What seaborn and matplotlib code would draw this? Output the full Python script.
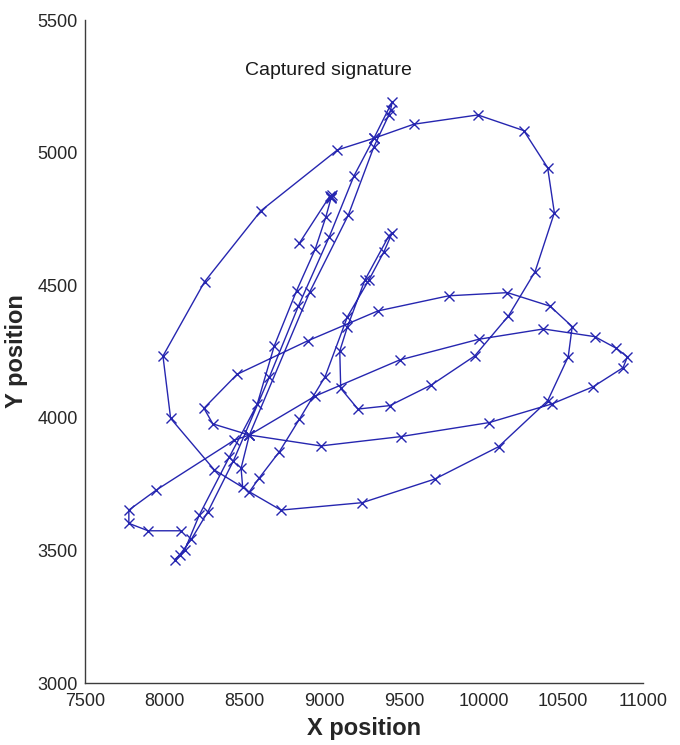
import numpy as np
import pandas as pd
import matplotlib
matplotlib.use("Agg")
import matplotlib.pyplot as plt
import seaborn as sns

# ---- captured pen trace, segment by segment, in writing order ----
stub_star_x = [8844, 9036, 9042, 9048, 9040, 9045]
stub_star_y = [4658, 4836, 4834, 4840, 4828, 4832]

down_a_x = [9010, 8944, 8827, 8687, 8580, 8406, 8216, 8125, 8062]
down_a_y = [4756, 4636, 4479, 4271, 4051, 3853, 3632, 3501, 3464]

up_b_x = [8094, 8167, 8271, 8431, 8656, 8839, 9031, 9187, 9312, 9427]
up_b_y = [3483, 3542, 3646, 3838, 4153, 4422, 4681, 4912, 5054, 5192]

down_c_x = [9417, 9406, 9312, 9152, 8911, 8531]
down_c_y = [5161, 5142, 5022, 4765, 4476, 3935]

loop_x = [8479, 8489, 8312, 8037, 7989, 8250, 8604, 9083, 9312, 9562, 9964,
          10252, 10402, 10444, 10323, 10156, 9944, 9673, 9412, 9212, 9104, 9098]
loop_y = [3810, 3738, 3803, 3998, 4233, 4513, 4781, 5010, 5054, 5107, 5142,
          5083, 4943, 4773, 4551, 4384, 4233, 4124, 4046, 4033, 4111, 4252]

spike_x = [9146, 9256, 9406, 9427, 9375, 9281, 9146, 9006, 8844, 8719, 8594, 8531]
spike_y = [4343, 4520, 4686, 4698, 4626, 4520, 4381, 4155, 3994, 3872, 3774, 3721]

lower_x = [8729, 9239, 9694, 10094, 10402, 10531, 10556, 10417, 10150, 9781,
           9337, 8896, 8454, 8246, 8302, 8531]
lower_y = [3652, 3680, 3769, 3891, 4064, 4230, 4344, 4421, 4472, 4460,
           4403, 4290, 4164, 4036, 3977, 3935]

right_x = [8979, 9479, 10035, 10427, 10687, 10875, 10902, 10833, 10698, 10375,
           9969, 9473, 8944, 8531]
right_y = [3894, 3929, 3982, 4052, 4117, 4189, 4230, 4262, 4306, 4335,
           4296, 4218, 4082, 3935]

tail_x = [8437, 7948, 7775, 7775, 7896, 8100]
tail_y = [3916, 3728, 3652, 3602, 3574, 3574]

x_ticks = [7500, 8000, 8500, 9000, 9500, 10000, 10500, 11000]
y_ticks = [3000, 3500, 4000, 4500, 5000, 5500]

title_text = "Captured signature"
x_label = "X position"
y_label = "Y position"

# ---- assemble ----
xs = (stub_star_x + down_a_x + up_b_x + down_c_x + loop_x + spike_x
      + lower_x + right_x + tail_x)
ys = (stub_star_y + down_a_y + up_b_y + down_c_y + loop_y + spike_y
      + lower_y + right_y + tail_y)
df = pd.DataFrame({"x": xs, "y": ys})

sns.set_style("white")
plt.rcParams["font.family"] = ["Liberation Sans", "DejaVu Sans"]

BLUE = "#2626b0"
AX = "#3c3c3c"

fig = plt.figure(figsize=(6.8, 7.45), dpi=100)
ax = fig.add_axes([85 / 680, 62 / 745, 558 / 680, 663 / 745])

sns.lineplot(data=df, x="x", y="y", sort=False, estimator=None, ax=ax,
             color=BLUE, linewidth=1.0, marker="x", markersize=6.5,
             markeredgecolor=BLUE, markeredgewidth=1.0)

ax.set_xlim(x_ticks[0], x_ticks[-1])
ax.set_ylim(y_ticks[0], y_ticks[-1])
ax.set_xticks(x_ticks)
ax.set_yticks(y_ticks)
ax.set_xticklabels([str(v) for v in x_ticks])
ax.set_yticklabels([str(v) for v in y_ticks])

for side in ["top", "right"]:
    ax.spines[side].set_visible(False)
for side in ["left", "bottom"]:
    ax.spines[side].set_color(AX)
    ax.spines[side].set_linewidth(1.0)

ax.tick_params(axis="both", direction="in", length=6, width=1.0, color=AX,
               labelsize=13, labelcolor="#262626")
ax.tick_params(axis="x", pad=7)
ax.tick_params(axis="y", pad=5)

ax.set_xlabel(x_label, fontsize=17, fontweight="bold", color="#262626", labelpad=5)
ax.set_ylabel(y_label, fontsize=17, fontweight="bold", color="#262626", labelpad=7)

ax.text(9030, 5310, title_text, ha="center", va="center", fontsize=14, color="#1a1a1a")

ax.grid(False)
fig.savefig("out.png", dpi=100, facecolor="white")
